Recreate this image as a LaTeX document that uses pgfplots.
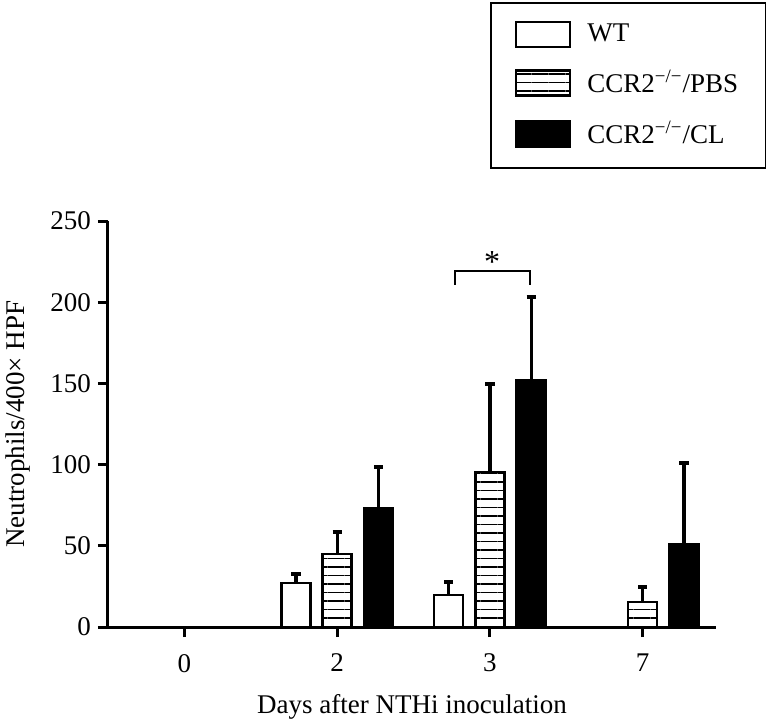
\documentclass[border=0pt]{standalone}
\usepackage{fontspec}
\setmainfont{Liberation Serif}
\usepackage{pgfplots}
\pgfplotsset{compat=1.18}
\usetikzlibrary{patterns.meta}
\newcommand{\fnt}{\fontsize{13.5}{16}\selectfont}
\newcommand{\ko}{\textsuperscript{\char"2212/\char"2212}}
\begin{document}
\begin{tikzpicture}
\useasboundingbox (-54pt,-46.5pt) rectangle (329pt,313.5pt);
\begin{axis}[
  at={(0,0)}, anchor=south west,
  scale only axis, width=304pt, height=203pt,
  xmin=-0.5, xmax=3.48, ymin=0, ymax=250,
  axis x line*=bottom, axis y line*=left,
  axis line style={line width=1.5pt, -},
  xtick={0,1,2,3}, xticklabels={0,2,3,7},
  ytick={0,50,100,150,200,250},
  tick align=outside, tick style={line width=1.5pt, black},
  major tick length=5pt,
  /pgf/number format/assume math mode=true,
  tick label style={font=\fnt},
  xticklabel style={yshift=-5pt},
  xlabel={Days after NTHi inoculation},
  ylabel={Neutrophils/400× HPF},
  label style={font=\fnt},
  xlabel style={at={(axis description cs:0.5,-0.197)}, anchor=center},
  ylabel style={at={(axis description cs:-0.148,0.5)}, anchor=center},
  ybar, bar width=0.19,
  clip=false,
  legend style={at={(axis description cs:0.628,1.539)}, anchor=north west,
    draw=black, line width=1pt, font=\fnt, inner xsep=12pt, inner ysep=8.5pt,
    row sep=8.5pt, cells={anchor=west}},
  legend image code/.code={\draw[#1,/tikz/.cd,line width=1.3pt] (0pt,-6.25pt) rectangle (27pt,6.25pt); \path (33pt,0);},
  error bars/y dir=plus, error bars/y explicit,
  error bars/error mark=|,
  error bars/error bar style={line width=1.6pt, black},
  error bars/error mark options={line width=2pt, mark size=2.3pt, black},
]
\addplot[bar shift=-0.27, draw=black, fill=white, line width=1.3pt]
  coordinates {(1,27) +- (0,5.6) (2,19.7) +- (0,8)};
\addplot[bar shift=0, draw=black, line width=1.3pt,
  pattern={Lines[angle=0,distance=4.25pt,line width=0.8pt]}]
  coordinates {(1,45) +- (0,13.5) (2,95.5) +- (0,54) (3,15.4) +- (0,9.2)};
\addplot[bar shift=0.27, draw=black, fill=black, line width=1.3pt]
  coordinates {(1,73) +- (0,25.5) (2,152) +- (0,51.4) (3,51) +- (0,50)};
\legend{WT, CCR2\ko/PBS, CCR2\ko/CL}
\draw[line width=1pt] (axis cs:1.77,210.6) -- (axis cs:1.77,219) -- (axis cs:2.26,219) -- (axis cs:2.26,210.6);
\node[font=\fontsize{16}{18}\selectfont, anchor=south, inner sep=1pt] at (axis cs:2.015,217) {*};
\end{axis}
\end{tikzpicture}
\end{document}
